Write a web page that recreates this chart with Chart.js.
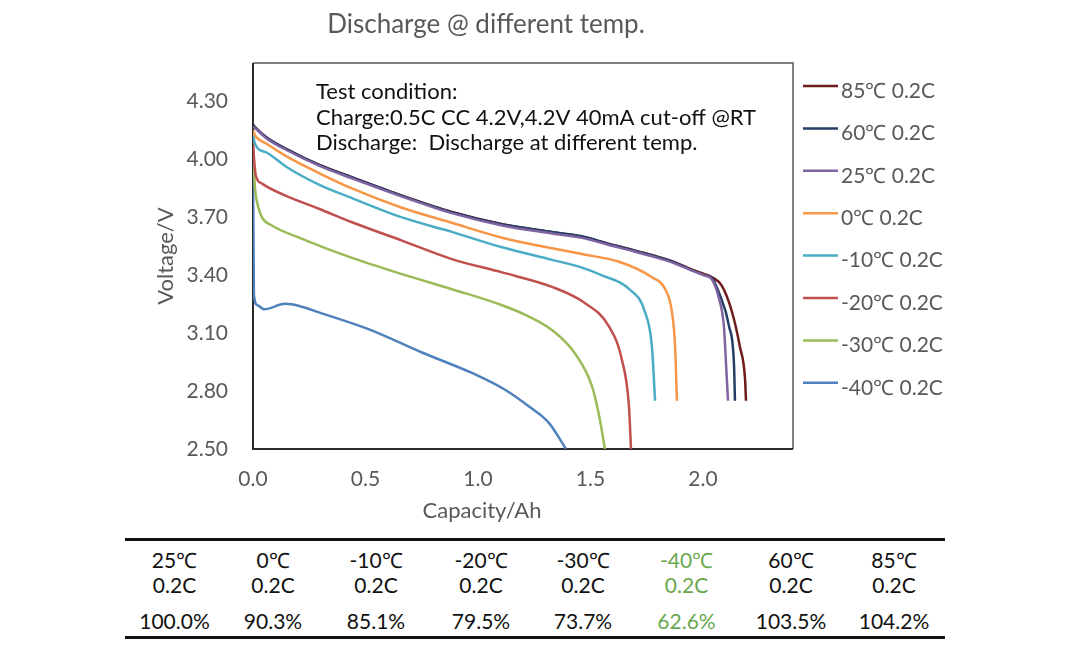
<!DOCTYPE html>
<html>
<head>
<meta charset="utf-8">
<script src="https://cdn.jsdelivr.net/npm/chart.js@4.4.1/dist/chart.umd.min.js"></script>
<style>
  html, body { margin: 0; padding: 0; background: #fff; }
  body { width: 1080px; height: 650px; position: relative; overflow: hidden; font-family: Lato, "Open Sans", sans-serif; }
  #wrap { position: absolute; left: 0; top: 0; width: 1080px; height: 530px; }
  #tbl { position: absolute; left: 125px; top: 538px; width: 820px; border-collapse: collapse; table-layout: fixed;
         border-top: 3px solid #111; border-bottom: 3px solid #111; font-size: 21px; color: #111; }
  #tbl td { text-align: center; line-height: 25px; padding: 0; white-space: nowrap; }
  #tbl tr.r1 td { padding-top: 6px; }
  #tbl tr.r3 td { padding-top: 11px; padding-bottom: 3px; }
  #tbl td.hl { color: #6aa84f; }
</style>
</head>
<body>
<div id="wrap"><canvas id="chart"></canvas></div>
<table id="tbl">
  <colgroup>
    <col style="width:99px"><col style="width:98px"><col style="width:108px"><col style="width:102px">
    <col style="width:102px"><col style="width:105px"><col style="width:104px"><col style="width:102px">
  </colgroup>
</table>
<script>
// axis ticks
const xTicks = [0, 0.5, 1.0, 1.5, 2.0];
const yTicks = [2.5, 2.8, 3.1, 3.4, 3.7, 4.0, 4.3];

// legend / series names and colours
const seriesNames = ['85℃ 0.2C', '60℃ 0.2C', '25℃ 0.2C', '0℃ 0.2C', '-10℃ 0.2C', '-20℃ 0.2C', '-30℃ 0.2C', '-40℃ 0.2C'];
const seriesColors = ['#6e1c1c', '#263d66', '#8064a2', '#f79646', '#4bacc6', '#c0504d', '#9bbb59', '#4f81bd'];
// draw order: purple on top of navy on top of maroon, like the original
const drawOrder = [2, 1, 0, 3, 4, 5, 6, 7];

// discharge curves, [capacity Ah, voltage V]
const curve85 = [[0,4.18],[0.009,4.168],[0.062,4.113],[0.151,4.053],[0.293,3.973],[0.44,3.908],[0.662,3.813],[0.884,3.728],[1.107,3.665],[1.329,3.623],[1.462,3.6],[1.582,3.563],[1.698,3.528],[1.849,3.478],[1.964,3.424],[2.009,3.405],[2.04,3.39],[2.084,3.345],[2.129,3.21],[2.164,3.03],[2.187,2.86],[2.191,2.75]];
const curve60 = [[0,4.18],[0.009,4.166],[0.062,4.112],[0.151,4.052],[0.293,3.972],[0.44,3.907],[0.662,3.812],[0.884,3.727],[1.107,3.664],[1.329,3.624],[1.462,3.602],[1.582,3.562],[1.698,3.527],[1.849,3.477],[1.964,3.42],[2.009,3.4],[2.04,3.385],[2.071,3.31],[2.116,3.135],[2.138,2.93],[2.142,2.75]];
const curve25 = [[0,4.17],[0.009,4.162],[0.062,4.108],[0.151,4.048],[0.293,3.968],[0.44,3.902],[0.662,3.808],[0.884,3.722],[1.107,3.658],[1.329,3.617],[1.462,3.594],[1.582,3.557],[1.698,3.522],[1.849,3.472],[1.964,3.418],[2.009,3.398],[2.04,3.378],[2.071,3.28],[2.093,3.135],[2.102,2.95],[2.111,2.75]];
const curve0 = [[0,4.15],[0.009,4.125],[0.062,4.08],[0.151,4.015],[0.293,3.93],[0.44,3.85],[0.662,3.75],[0.884,3.672],[1.107,3.595],[1.329,3.54],[1.462,3.51],[1.627,3.47],[1.773,3.39],[1.831,3.33],[1.862,3.21],[1.876,3.03],[1.884,2.75]];
const curveM10 = [[0,4.13],[0.009,4.08],[0.062,4.035],[0.151,3.96],[0.293,3.87],[0.44,3.8],[0.662,3.7],[0.884,3.625],[1.107,3.545],[1.329,3.48],[1.462,3.44],[1.551,3.4],[1.671,3.33],[1.742,3.21],[1.773,3.03],[1.787,2.75]];
const curveM20 = [[0,4.1],[0.005,4.0],[0.012,3.92],[0.04,3.875],[0.142,3.814],[0.293,3.745],[0.44,3.675],[0.662,3.58],[0.884,3.484],[1.107,3.415],[1.329,3.34],[1.47,3.26],[1.582,3.135],[1.64,2.96],[1.671,2.72],[1.68,2.5]];
const curveM30 = [[0,4.05],[0.009,3.85],[0.018,3.78],[0.04,3.7],[0.084,3.658],[0.218,3.589],[0.44,3.49],[0.662,3.406],[0.884,3.328],[1.107,3.245],[1.22,3.19],[1.33,3.115],[1.431,2.995],[1.507,2.824],[1.542,2.65],[1.564,2.5]];
const curveM40 = [[0,4.0],[0.004,3.3],[0.02,3.245],[0.049,3.224],[0.142,3.252],[0.209,3.24],[0.293,3.208],[0.516,3.12],[0.751,3.0],[0.973,2.894],[1.12,2.807],[1.227,2.72],[1.316,2.634],[1.391,2.5]];
const curves = [curve85, curve60, curve25, curve0, curveM10, curveM20, curveM30, curveM40];

// capacity retention table
const tableTemps = ['25℃', '0℃', '-10℃', '-20℃', '-30℃', '-40℃', '60℃', '85℃'];
const tableRates = ['0.2C', '0.2C', '0.2C', '0.2C', '0.2C', '0.2C', '0.2C', '0.2C'];
const tableRetention = ['100.0%', '90.3%', '85.1%', '79.5%', '73.7%', '62.6%', '103.5%', '104.2%'];
const highlightCol = 5;

const noteLines = ['Test condition:', 'Charge:0.5C CC 4.2V,4.2V 40mA cut-off @RT', 'Discharge:  Discharge at different temp.'];
const FONT = 'Lato, "Open Sans", sans-serif';
const GREY = '#595959';

// frame, title, note, x title and legend drawn on the canvas
const overlay = {
  id: 'overlay',
  beforeDatasetsDraw(chart) {
    const { ctx, chartArea: a } = chart;
    ctx.save();
    ctx.lineWidth = 1.5;
    ctx.strokeStyle = '#555';
    ctx.beginPath();
    ctx.moveTo(a.left, a.top);
    ctx.lineTo(a.right, a.top);
    ctx.lineTo(a.right, a.bottom);
    ctx.stroke();
    ctx.lineWidth = 2;
    ctx.strokeStyle = '#2b2b2b';
    ctx.beginPath();
    ctx.moveTo(a.left, a.top);
    ctx.lineTo(a.left, a.bottom);
    ctx.lineTo(a.right, a.bottom);
    ctx.stroke();
    ctx.restore();
  },
  afterDraw(chart) {
    const { ctx, chartArea: a } = chart;
    ctx.save();
    ctx.textBaseline = 'middle';
    ctx.fillStyle = GREY;
    ctx.font = '26px ' + FONT;
    ctx.textAlign = 'center';
    ctx.fillText('Discharge @ different temp.', 486, 25);

    ctx.font = '22px ' + FONT;
    ctx.fillText('Capacity/Ah', 482, 511);

    ctx.fillStyle = '#111';
    ctx.font = '22px ' + FONT;
    ctx.textAlign = 'left';
    noteLines.forEach((t, i) => ctx.fillText(t, a.left + 63, 92 + i * 25.5));

    ctx.font = '21px ' + FONT;
    seriesNames.forEach((name, i) => {
      const ty = 91 + i * 42.4;
      ctx.strokeStyle = seriesColors[i];
      ctx.lineWidth = 2.5;
      ctx.beginPath();
      ctx.moveTo(a.right + 10, ty - 5);
      ctx.lineTo(a.right + 45, ty - 5);
      ctx.stroke();
      ctx.fillStyle = GREY;
      ctx.fillText(name, a.right + 48, ty);
    });
    ctx.restore();
  }
};

new Chart(document.getElementById('chart'), {
  type: 'scatter',
  data: {
    datasets: curves.map((c, i) => ({
      label: seriesNames[i],
      data: c.map(p => ({ x: p[0], y: p[1] })),
      order: drawOrder[i],
      showLine: true,
      borderColor: seriesColors[i],
      backgroundColor: seriesColors[i],
      borderWidth: 2.5,
      pointRadius: 0,
      cubicInterpolationMode: 'monotone'
    }))
  },
  options: {
    responsive: true,
    maintainAspectRatio: false,
    animation: false,
    layout: { padding: { left: 150, right: 287, top: 63, bottom: 8 } },
    plugins: { legend: { display: false }, tooltip: { enabled: false } },
    scales: {
      x: {
        type: 'linear', min: 0, max: 2.4,
        grid: { display: false, drawTicks: false },
        border: { display: false },
        afterBuildTicks: s => { s.ticks = xTicks.map(v => ({ value: v })); },
        afterFit: s => { s.height = 73; },
        ticks: { padding: 18, color: GREY, font: { family: FONT, size: 21 }, callback: v => v.toFixed(1) }
      },
      y: {
        type: 'linear', min: 2.5, max: 4.5,
        grid: { display: false, drawTicks: false },
        border: { display: false },
        afterBuildTicks: s => { s.ticks = yTicks.map(v => ({ value: v })); },
        afterFit: s => { s.width = 103; },
        ticks: { padding: 25, color: GREY, font: { family: FONT, size: 21 }, callback: v => v.toFixed(2) },
        title: { display: true, text: 'Voltage/V', color: GREY, font: { family: FONT, size: 22 }, padding: { top: 3, bottom: 4 } }
      }
    }
  },
  plugins: [overlay]
});

// table below the chart
const tbl = document.getElementById('tbl');
[tableTemps, tableRates, tableRetention].forEach((row, r) => {
  const tr = document.createElement('tr');
  tr.className = 'r' + (r + 1);
  row.forEach((txt, c) => {
    const td = document.createElement('td');
    td.textContent = txt;
    if (c === highlightCol) td.className = 'hl';
    tr.appendChild(td);
  });
  tbl.appendChild(tr);
});
</script>
</body>
</html>
